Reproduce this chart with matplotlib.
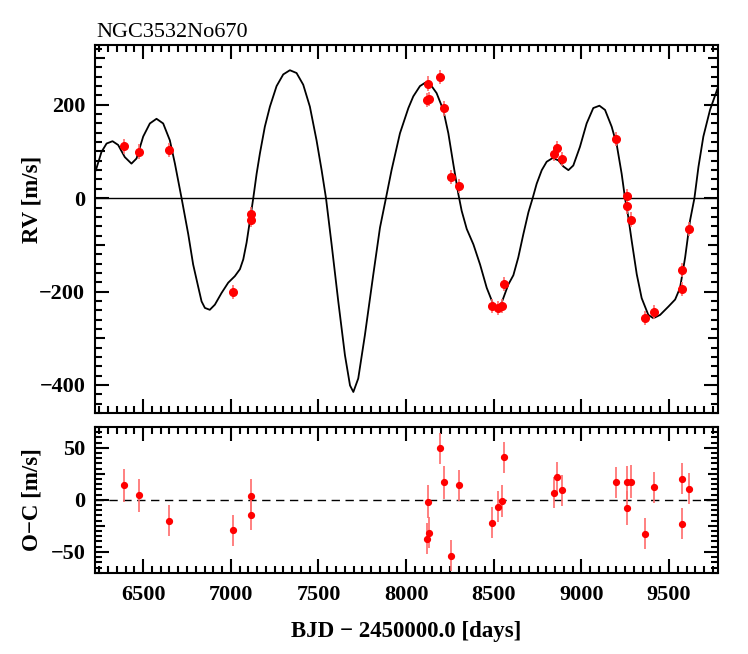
import numpy as np
import matplotlib
matplotlib.use('Agg')
import matplotlib.pyplot as plt
from matplotlib.ticker import MultipleLocator

plt.rcParams['font.family'] = ['Liberation Serif', 'DejaVu Serif']

# observed radial velocities
bjd = [6392, 6477, 6650, 7014, 7113, 7115, 8120, 8126, 8133, 8191, 8218, 8259,
       8301, 8492, 8525, 8546, 8558, 8842, 8861, 8890, 9199, 9258, 9258, 9281,
       9364, 9412, 9575, 9575, 9616]
rv = [111, 99, 104, -200, -34, -47, 211, 245, 213, 259, 193, 46,
      26, -230, -235, -230, -184, 94, 107, 83, 127, 4, -17, -46,
      -256, -243, -153, -195, -66]
oc = [14.1, 4.5, -19.9, -29.2, 3.8, -14.4, -37.5, -1.9, -31.4, 49.7, 17.0, -53.8,
      14.1, -22.0, -6.4, -1.0, 41.0, 6.7, 21.5, 9.0, 16.7, 17.0, -7.7, 17.6,
      -32.7, 12.2, 20.2, -22.8, 10.9]
err = [16, 16, 15, 15, 16, 15, 15, 16, 15, 15, 16, 15,
       15, 15, 15, 15, 15, 15, 15, 15, 15, 16, 16, 16,
       15, 15, 15, 15, 15]

# fitted model curve
model_t = [6230, 6262, 6291, 6325, 6357, 6395, 6433, 6462, 6500, 6538, 6576,
           6614, 6652, 6681, 6719, 6757, 6785, 6814, 6833, 6852, 6880, 6909,
           6947, 6985, 7023, 7052, 7071, 7090, 7109, 7128, 7147, 7166, 7194,
           7223, 7261, 7299, 7337, 7375, 7413, 7451, 7489, 7518, 7543, 7575,
           7613, 7651, 7680, 7699, 7727, 7765, 7813, 7851, 7885, 7917, 7965,
           8013, 8041, 8079, 8108, 8136, 8174, 8212, 8241, 8269, 8298, 8317,
           8346, 8384, 8422, 8460, 8498, 8517, 8545, 8583, 8612, 8640, 8669,
           8698, 8722, 8745, 8774, 8802, 8836, 8869, 8897, 8926, 8954, 8992,
           9030, 9068, 9103, 9135, 9173, 9202, 9230, 9249, 9268, 9287, 9316,
           9344, 9382, 9411, 9449, 9497, 9535, 9563, 9592, 9620, 9645, 9668,
           9696, 9734, 9778]
model_rv = [60, 99, 117, 122, 114, 88, 74, 85, 132, 160, 170,
            160, 124, 74, 0, -77, -142, -190, -221, -235, -239, -228,
            -203, -181, -167, -152, -131, -95, -48, 0, 52, 96, 153,
            196, 240, 265, 274, 268, 243, 196, 124, 60, 0, -99,
            -221, -336, -401, -415, -386, -293, -163, -63, 0, 60, 139,
            193, 218, 240, 247, 245, 225, 189, 139, 74, 9, -27,
            -66, -99, -142, -192, -228, -235, -224, -185, -165, -127, -77,
            -30, 0, 31, 60, 78, 86, 81, 68, 60, 70, 110,
            160, 193, 198, 189, 153, 114, 52, 0, -41, -91, -163,
            -214, -250, -257, -250, -232, -217, -192, -127, -48, 0, 67,
            132, 189, 236]

xlim = (6225, 9780)


def medium_ticks(axis, step, size):
    locs = axis.get_minorticklocs()
    ticks = axis.get_minor_ticks(len(locs))
    for loc, t in zip(locs, ticks):
        if abs(loc / step - round(loc / step)) < 1e-6:
            t.tick1line.set_markersize(size)
            t.tick2line.set_markersize(size)


def style_axis(ax):
    for s in ax.spines.values():
        s.set_linewidth(1.5)
    ax.tick_params(which='both', direction='in', top=True, right=True, width=1.5,
                   labelsize=16)
    ax.tick_params(which='major', length=10)
    ax.tick_params(which='minor', length=5)
    ax.tick_params(axis='x', pad=9)
    ax.tick_params(axis='y', pad=7)
    for lab in ax.get_xticklabels() + ax.get_yticklabels():
        lab.set_fontweight('bold')


fig = plt.figure(figsize=(7.48, 6.54), dpi=100)
ax1 = fig.add_axes([0.127, 0.3685, 0.833, 0.5627])
ax2 = fig.add_axes([0.127, 0.1243, 0.833, 0.2228])

# RV panel
ax1.axhline(0, color='black', lw=1.0)
ax1.plot(model_t, model_rv, color='black', lw=1.3, solid_joinstyle='round')
ax1.errorbar(bjd, rv, yerr=err, fmt='none', ecolor='#ff6b6b', elinewidth=1.2)
ax1.plot(bjd, rv, 'o', color='red', ms=5.5, mec='red')
ax1.set_xlim(xlim)
ax1.set_ylim(-460, 328)
ax1.xaxis.set_major_locator(MultipleLocator(500))
ax1.xaxis.set_minor_locator(MultipleLocator(50))
ax1.yaxis.set_major_locator(MultipleLocator(200))
ax1.yaxis.set_minor_locator(MultipleLocator(20))
style_axis(ax1)
ax1.tick_params(labelbottom=False)
for lab in ax1.get_yticklabels():
    lab.set_fontweight('bold')
medium_ticks(ax1.yaxis, 100, 7.5)
ax1.set_ylabel('RV [m/s]', fontsize=16.5, fontweight='bold')
ax1.yaxis.set_label_coords(-0.085, 0.58)
ax1.text(0.003, 1.008, 'NGC3532No670', transform=ax1.transAxes, fontsize=16,
         ha='left', va='bottom')

# residual panel
ax2.axhline(0, color='black', lw=1.0, ls=(0, (6, 4)))
ax2.errorbar(bjd, oc, yerr=err, fmt='none', ecolor='#ff6b6b', elinewidth=1.2)
ax2.plot(bjd, oc, 'o', color='red', ms=4.2, mec='red')
ax2.set_xlim(xlim)
ax2.set_ylim(-70, 70)
ax2.xaxis.set_major_locator(MultipleLocator(500))
ax2.xaxis.set_minor_locator(MultipleLocator(50))
ax2.yaxis.set_major_locator(MultipleLocator(50))
ax2.yaxis.set_minor_locator(MultipleLocator(5))
style_axis(ax2)
for lab in ax2.get_xticklabels() + ax2.get_yticklabels():
    lab.set_fontweight('bold')
medium_ticks(ax2.yaxis, 25, 7.5)
ax2.set_ylabel('O\u2212C [m/s]', fontsize=16.5, fontweight='bold')
ax2.yaxis.set_label_coords(-0.085, 0.5)
ax2.set_xlabel('BJD \u2212 2450000.0 [days]', fontsize=16.5, fontweight='bold')
ax2.xaxis.set_label_coords(0.5, -0.33)

fig.savefig('out.png', dpi=100)
